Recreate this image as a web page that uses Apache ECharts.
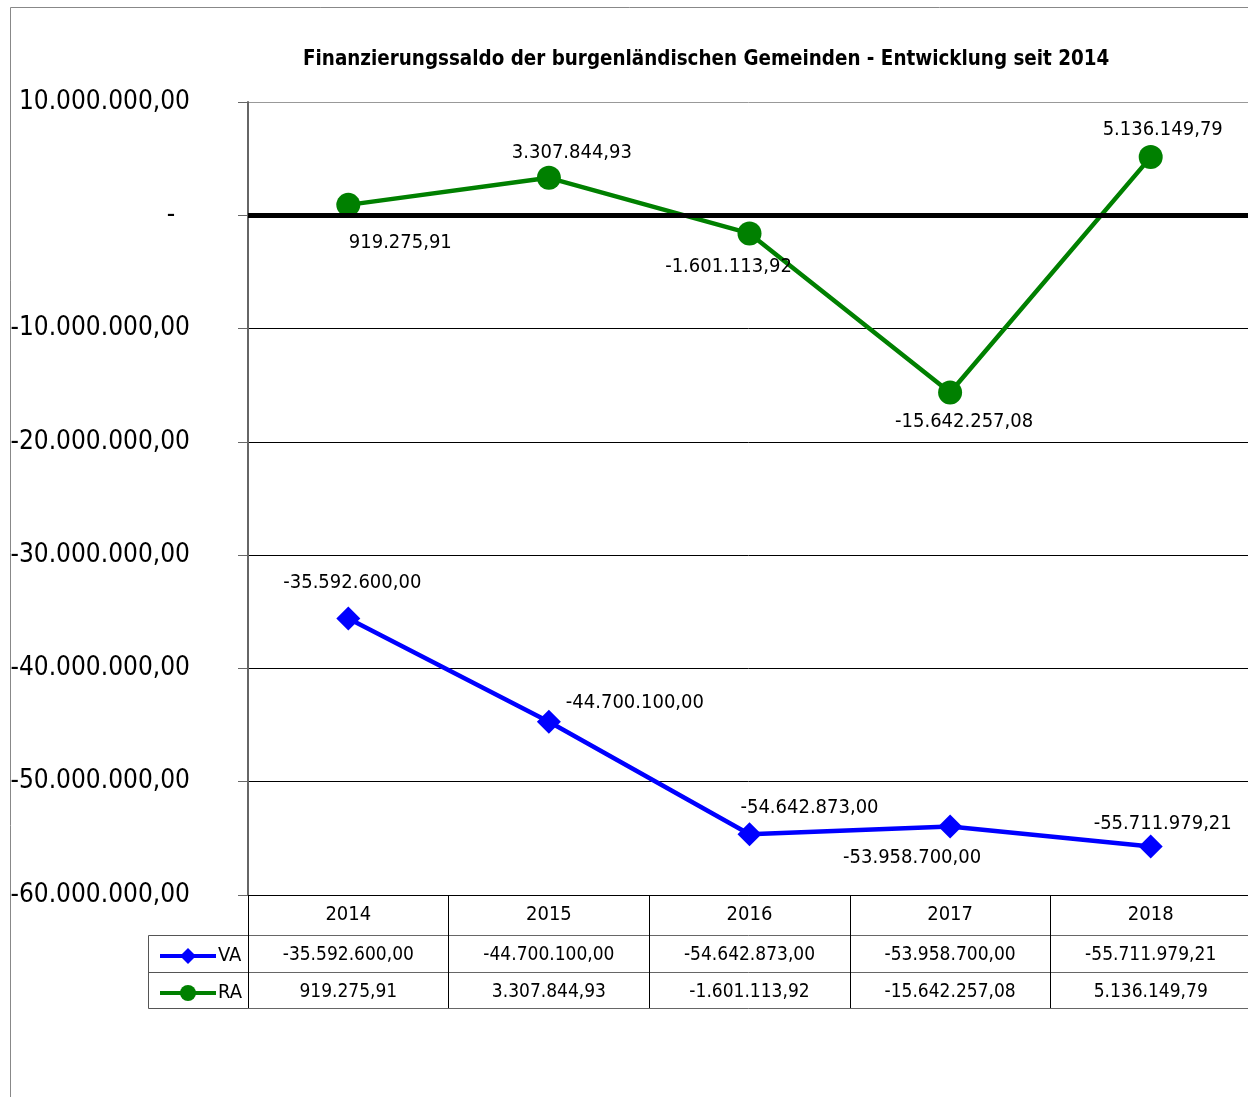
<!DOCTYPE html>
<html><head><meta charset="utf-8">
<script src="https://cdn.jsdelivr.net/npm/echarts@6/dist/echarts.min.js"></script>
<style>html,body{margin:0;padding:0;background:#fff}#c{width:1248px;height:1097px}</style>
</head><body><div id="c"></div>
<script>
const titleText = 'Finanzierungssaldo der burgenländischen Gemeinden - Entwicklung seit 2014';
const years = ['2014', '2015', '2016', '2017', '2018'];
const vaValues = [-35592600.00, -44700100.00, -54642873.00, -53958700.00, -55711979.21];
const raValues = [919275.91, 3307844.93, -1601113.92, -15642257.08, 5136149.79];
const seriesNames = ['VA', 'RA'];
const yMin = -60000000, yMax = 10000000, yStep = 10000000;

// label offsets (style, not data)
const vaLabelOffsets = [[4,-36],[86,-19],[60,-27],[-38,31],[12,-23]];
const raLabelOffsets = [[52,38],[23,-25],[-21,33],[14,29],[12,-27]];

const FONT = "'Liberation Sans Narrow','Arial Narrow','DejaVu Sans Condensed',sans-serif";

function fmt(v) {
  const neg = v < 0;
  const a = Math.abs(v);
  const parts = a.toFixed(2).split('.');
  const intPart = parts[0].replace(/\B(?=(\d{3})+(?!\d))/g, '.');
  return (neg ? '-' : '') + intPart + ',' + parts[1];
}
function axisFmt(v) { return v === 0 ? '-  ' : fmt(v); }

const chart = echarts.init(document.getElementById('c'), null, {renderer: 'canvas'});

function mkData(vals, offs) {
  return vals.map((v, i) => ({
    value: v,
    label: {offset: offs[i]}
  }));
}

const gridColors = ['#000','#000','#000','#000','#000','#000','#000','#999'];

const option = {
  animation: false,
  backgroundColor: '#fff',
  textStyle: {fontFamily: FONT},
  title: {
    text: titleText, left: 298, top: 45,
    textStyle: {fontFamily: FONT, fontSize: 20.4, fontWeight: 'bold', color: '#000'}
  },
  graphic: [
    {type: 'rect', shape: {x: 10.5, y: 7.5, width: 1300, height: 1200}, style: {fill: 'none', stroke: '#888', lineWidth: 1}, silent: true, z: -1},
    {type: 'rect', shape: {x: 148.5, y: 935.5, width: 100, height: 73}, style: {fill: 'none', stroke: '#555', lineWidth: 1}, silent: true},
    {type: 'line', shape: {x1: 148, y1: 972.5, x2: 248, y2: 972.5}, style: {stroke: '#555', lineWidth: 1}, silent: true}
  ],
  legend: [
    {data: ['VA'], orient: 'vertical', left: 153, top: 941, itemWidth: 56, itemHeight: 20, selectedMode: false,
     lineStyle: {width: 4},
     textStyle: {fontFamily: FONT, fontSize: 20, color: '#000', padding: [0,0,0,-3]}},
    {data: ['RA'], orient: 'vertical', left: 153, top: 978, itemWidth: 56, itemHeight: 20, selectedMode: false,
     lineStyle: {width: 4},
     textStyle: {fontFamily: FONT, fontSize: 20, color: '#000', padding: [0,0,0,-3]}}
  ],
  grid: {left: 248, right: -3, top: 102, bottom: 202, containLabel: false, outerBoundsMode: 'none'},
  xAxis: [
    {type: 'category', data: years, position: 'bottom', boundaryGap: true,
     axisLine: {onZero: false, lineStyle: {color: '#000', width: 1}},
     axisTick: {show: true, length: 40, lineStyle: {color: '#000'}},
     axisLabel: {fontFamily: FONT, fontSize: 20, color: '#000', margin: 10},
     splitLine: {show: false}},
    {type: 'category', data: vaValues.map(fmt), position: 'bottom', offset: 40, gridIndex: 0,
     axisLine: {onZero: false, lineStyle: {color: '#666', width: 1}},
     axisTick: {show: true, length: 37, lineStyle: {color: '#000'}},
     axisLabel: {fontFamily: FONT, fontSize: 19, color: '#000', margin: 11}},
    {type: 'category', data: raValues.map(fmt), position: 'bottom', offset: 77, gridIndex: 0,
     axisLine: {onZero: false, lineStyle: {color: '#666', width: 1}},
     axisTick: {show: true, length: 36, lineStyle: {color: '#000'}},
     axisLabel: {fontFamily: FONT, fontSize: 19, color: '#000', margin: 11}},
    {type: 'category', data: years, position: 'bottom', offset: 113, gridIndex: 0,
     axisLine: {onZero: false, lineStyle: {color: '#666', width: 1}},
     axisTick: {show: false}, axisLabel: {show: false}}
  ],
  yAxis: {
    type: 'value', min: yMin, max: yMax, interval: yStep,
    axisLine: {show: true, lineStyle: {color: '#666', width: 2}},
    axisTick: {show: true, length: 10, lineStyle: {color: '#666'}},
    axisLabel: {fontFamily: FONT, fontSize: 26, color: '#000', margin: 58, formatter: axisFmt},
    splitLine: {show: true, lineStyle: {color: gridColors, width: 1}}
  },
  series: [
    {name: seriesNames[0], type: 'line', xAxisIndex: 0, data: mkData(vaValues, vaLabelOffsets),
     symbol: 'diamond', symbolSize: 24, itemStyle: {color: '#0000FF'},
     lineStyle: {color: '#0000FF', width: 4.5},
     label: {show: true, position: 'inside', formatter: p => fmt(p.value), fontFamily: FONT, fontSize: 20, color: '#000'},
     z: 3},
    {name: seriesNames[1], type: 'line', xAxisIndex: 0, data: mkData(raValues, raLabelOffsets),
     symbol: 'circle', symbolSize: 24, itemStyle: {color: '#008000'},
     lineStyle: {color: '#008000', width: 4.5},
     label: {show: true, position: 'inside', formatter: p => fmt(p.value), fontFamily: FONT, fontSize: 20, color: '#000'},
     markLine: {silent: true, symbol: 'none', label: {show: false},
       lineStyle: {color: '#000', width: 5, type: 'solid'}, data: [{yAxis: 0}]},
     z: 3}
  ]
};
chart.setOption(option);
</script>
</body></html>
